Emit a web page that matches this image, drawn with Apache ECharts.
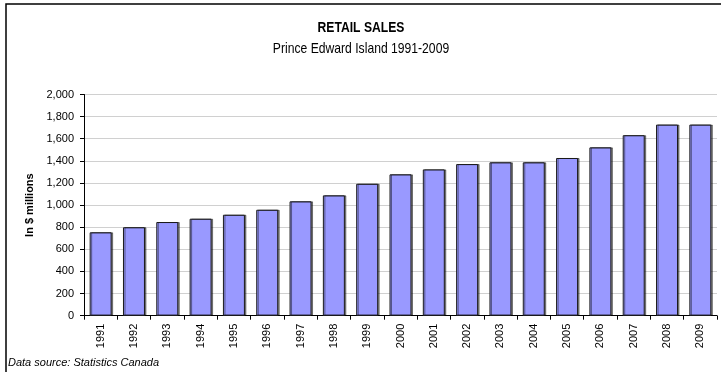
<!DOCTYPE html>
<html>
<head>
<meta charset="utf-8">
<script src="https://cdn.jsdelivr.net/npm/echarts@6/dist/echarts.min.js"></script>
<style>
html,body{margin:0;padding:0;background:#fff;}
#c{width:721px;height:372px;}
</style>
</head>
<body>
<div id="c"></div>
<script>
var years = ['1991','1992','1993','1994','1995','1996','1997','1998','1999','2000','2001','2002','2003','2004','2005','2006','2007','2008','2009'];
var sales = [754, 800, 847, 877, 913, 958, 1034, 1088, 1193, 1278, 1323, 1371, 1387, 1387, 1426, 1522, 1632, 1728, 1728];
var yMax = 2000;
var yStep = 200;
var titleText = 'RETAIL SALES';
var subtitleText = 'Prince Edward Island 1991-2009';
var sourceText = 'Data source: Statistics Canada';
var yName = 'In $ millions';

var FONT = '"Liberation Sans", Arial, sans-serif';
var chart = echarts.init(document.getElementById('c'));
chart.setOption({
  animation: false,
  backgroundColor: '#fff',
  textStyle: {fontFamily: FONT},
  graphic: [
    {type: 'rect', shape: {x: 6, y: 4, width: 740, height: 420}, style: {fill: 'none', stroke: '#000', lineWidth: 1.5}, silent: true},
    {type: 'text', x: 361, y: 27.5, scaleX: 0.81, style: {text: titleText, fontFamily: FONT, fontSize: 15, fontWeight: 'bold', fill: '#000', align: 'center', verticalAlign: 'middle'}},
    {type: 'text', x: 361, y: 48.5, scaleX: 0.81, style: {text: subtitleText, fontFamily: FONT, fontSize: 15, fontWeight: 'normal', fill: '#000', align: 'center', verticalAlign: 'middle'}},
    {type: 'text', left: 8, top: 357, style: {text: sourceText, fontFamily: FONT, fontSize: 11, fontStyle: 'italic', fill: '#000'}}
  ],
  grid: {left: 84, right: 4, top: 94.5, bottom: 56.3, containLabel: false},
  xAxis: {
    type: 'category',
    data: years,
    axisLine: {lineStyle: {color: '#000', width: 1}},
    axisTick: {show: true, alignWithLabel: false, length: 4, lineStyle: {color: '#000'}},
    axisLabel: {rotate: 90, interval: 0, fontFamily: FONT, fontSize: 11, color: '#000', margin: 8}
  },
  yAxis: {
    type: 'value',
    min: 0, max: yMax, interval: yStep,
    name: yName,
    nameLocation: 'middle',
    nameGap: 41,
    nameRotate: 90,
    nameTextStyle: {fontFamily: FONT, fontSize: 11, fontWeight: 'bold', color: '#000'},
    axisLine: {show: true, lineStyle: {color: '#000', width: 1}},
    axisTick: {show: true, length: 4, inside: false, lineStyle: {color: '#000'}},
    splitLine: {show: true, lineStyle: {color: '#d0d0d0', width: 1.2}},
    axisLabel: {fontFamily: FONT, fontSize: 11, color: '#000', margin: 10,
      formatter: function (v) { return v.toLocaleString('en-US'); }}
  },
  series: [{
    type: 'bar',
    data: sales,
    barCategoryGap: '34%',
    itemStyle: {color: '#9999ff', borderColor: '#1a1a1a', borderWidth: 1,
      shadowColor: 'rgba(0,0,0,0.45)', shadowOffsetX: 1.5, shadowOffsetY: 0, shadowBlur: 0}
  }]
});
</script>
</body>
</html>
